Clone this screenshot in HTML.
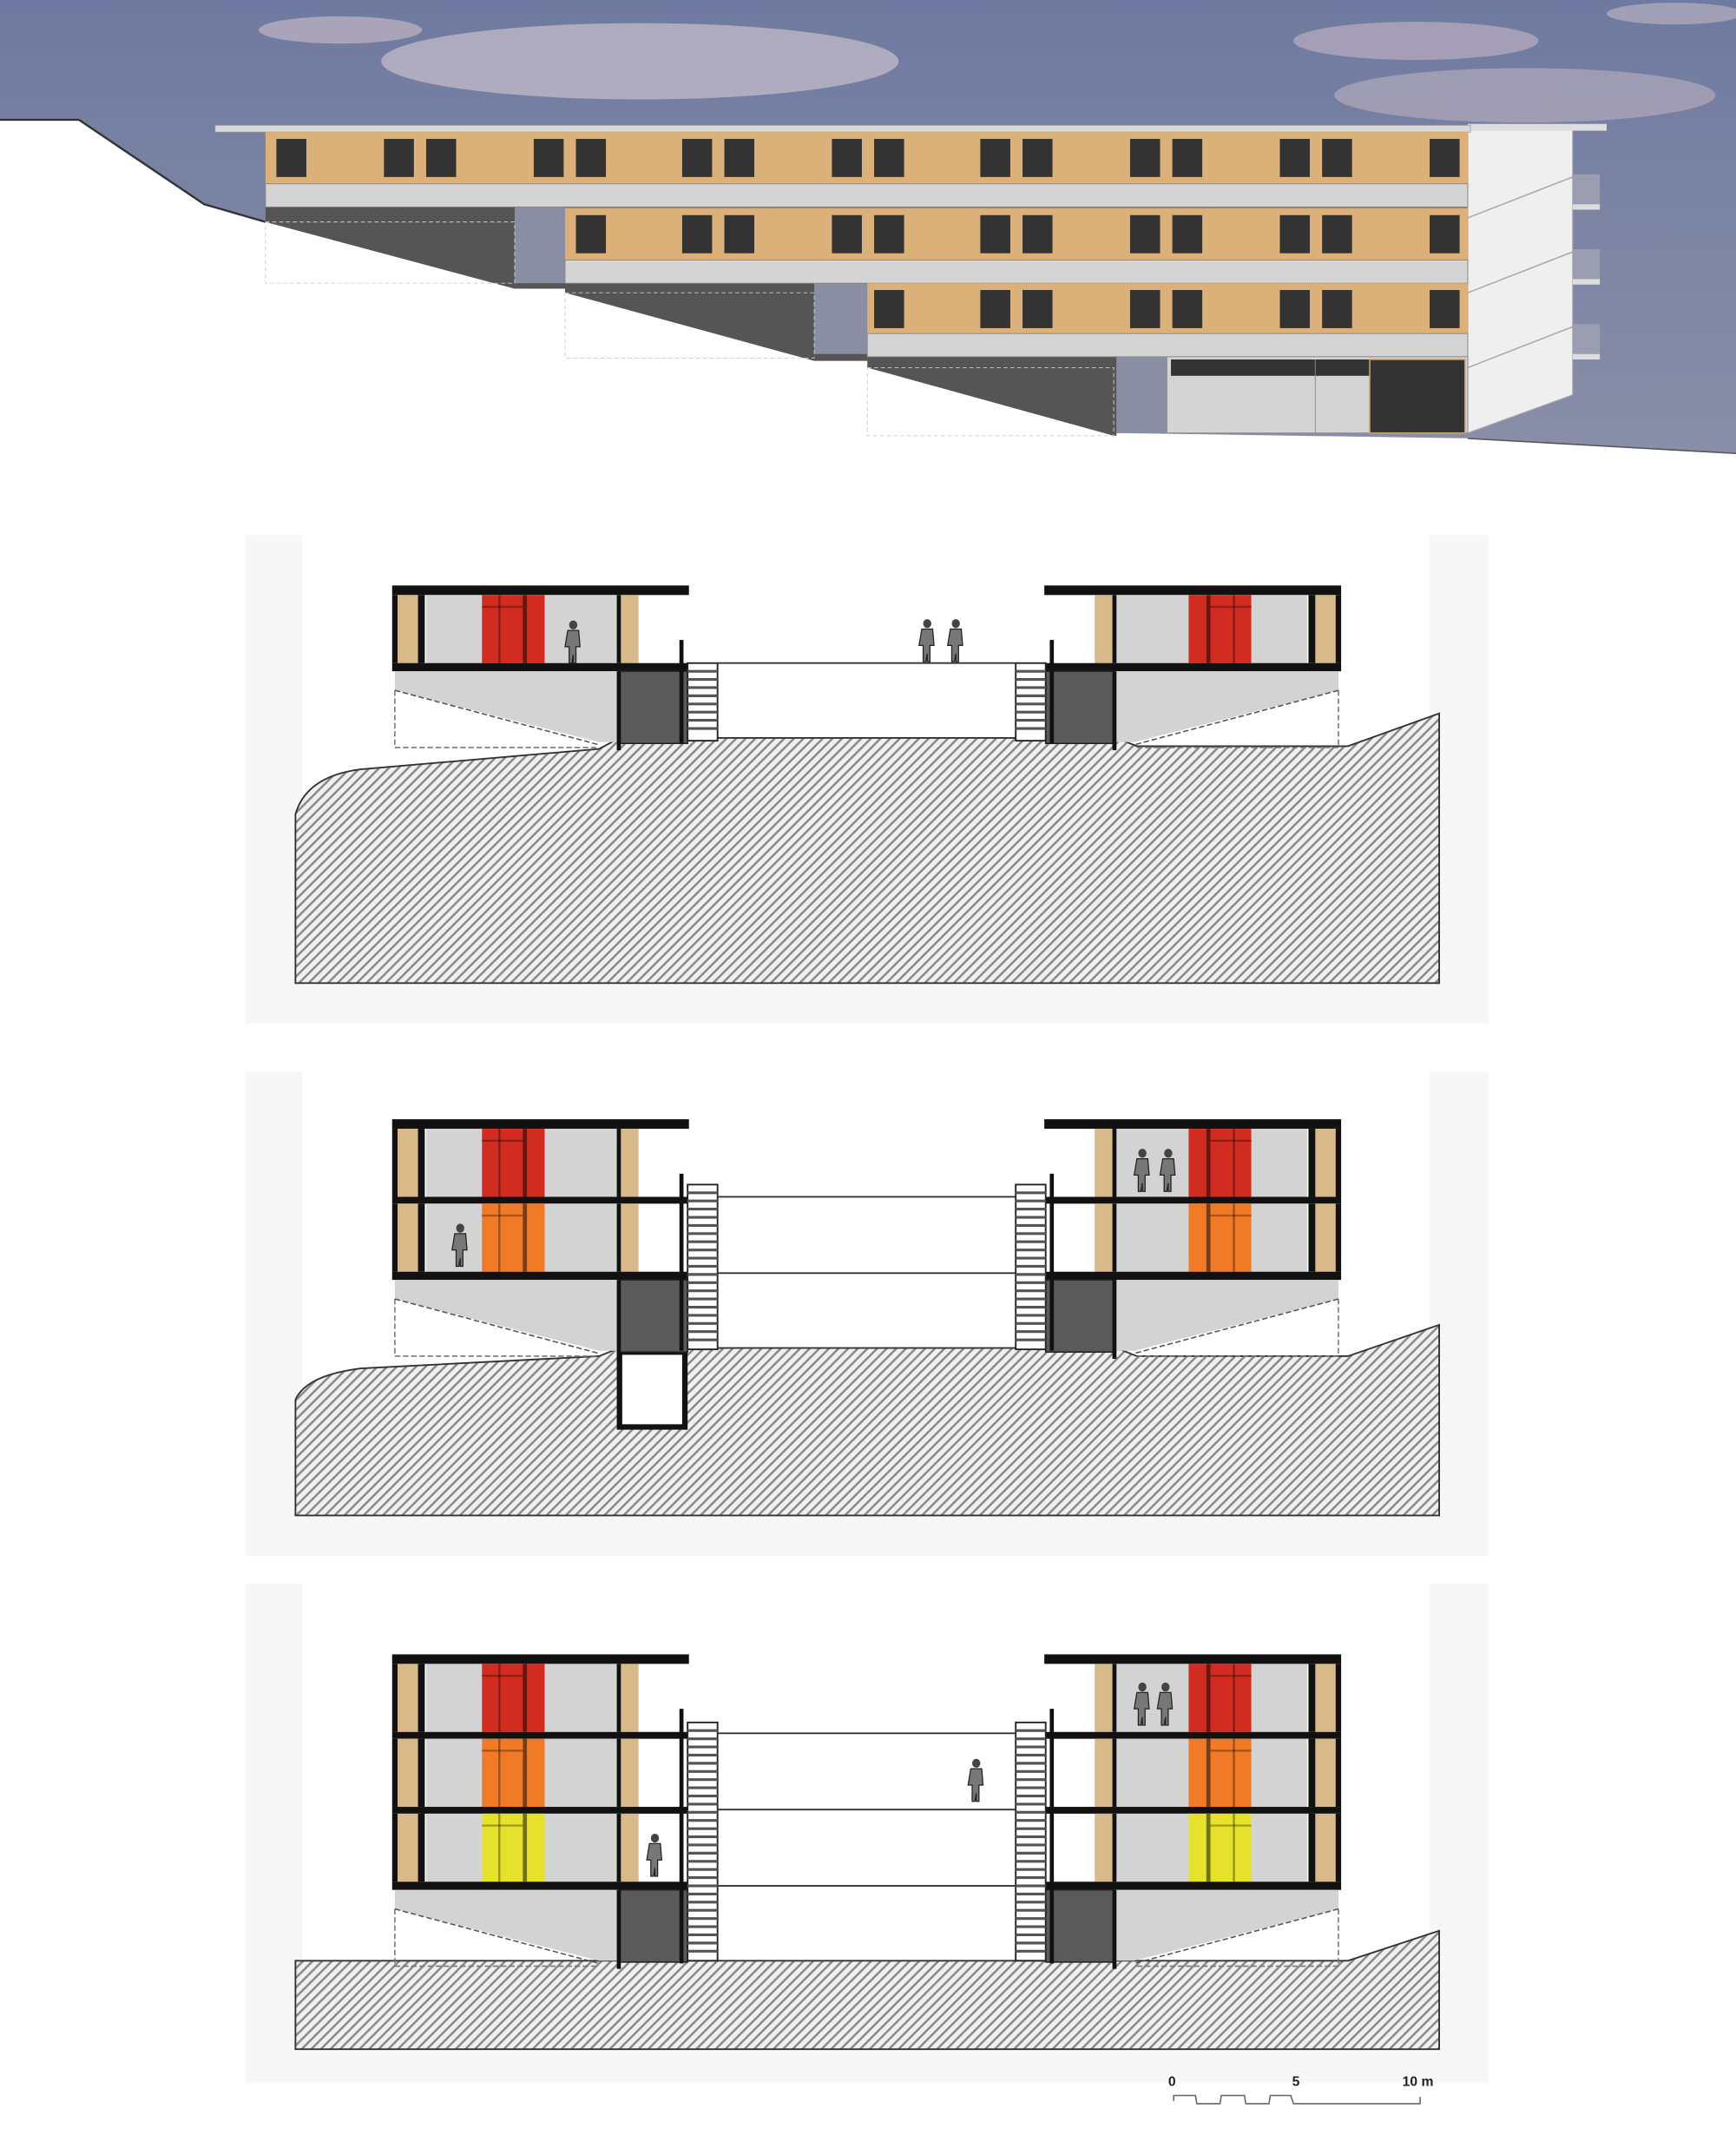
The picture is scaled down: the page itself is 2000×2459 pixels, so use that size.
<!DOCTYPE html>
<html><head><meta charset="utf-8"><style>html,body{margin:0;padding:0;background:#fff}svg{display:block}</style></head>
<body>
<svg width="2000" height="2459" viewBox="0 0 1275 1568" preserveAspectRatio="none" xmlns="http://www.w3.org/2000/svg">
<defs>
<linearGradient id="sky" x1="0" y1="0" x2="0" y2="1"><stop offset="0" stop-color="#6f7aa0"/><stop offset="1" stop-color="#8a8fa8"/></linearGradient>
<pattern id="hatch" width="5" height="5" patternUnits="userSpaceOnUse" patternTransform="rotate(-45)"><rect width="5" height="5" fill="#f0f0f0"/><rect width="5" height="1.6" fill="#8a8a8a"/></pattern>
<g id="win"><rect x="0" y="0" width="22" height="28" fill="#333"/></g>
<g id="band">
 <rect x="0" y="0" width="883" height="38" fill="#dcb179"/>
 <use href="#win" x="8" y="5"/><use href="#win" x="87" y="5"/><use href="#win" x="118" y="5"/>
 <use href="#win" x="197" y="5"/><use href="#win" x="228" y="5"/><use href="#win" x="306" y="5"/><use href="#win" x="337" y="5"/>
 <use href="#win" x="416" y="5"/><use href="#win" x="447" y="5"/><use href="#win" x="525" y="5"/><use href="#win" x="556" y="5"/>
 <use href="#win" x="635" y="5"/><use href="#win" x="666" y="5"/><use href="#win" x="745" y="5"/><use href="#win" x="776" y="5"/>
 <use href="#win" x="855" y="5"/>
</g>
<g id="fl">
 <rect x="289" y="0" width="20" height="50" fill="#d7b98a"/>
 <rect x="288" y="0" width="4" height="50" fill="#111"/>
 <rect x="307" y="0" width="5" height="50" fill="#111"/>
 <rect x="313" y="0" width="142" height="50" fill="#d3d3d3"/>
 <rect x="455" y="0" width="14" height="50" fill="#d7b98a"/>
 <rect x="453" y="0" width="3" height="50" fill="#111"/>
</g>
<g id="door"><rect x="354" y="0" width="46" height="50"/><rect x="366" y="0" width="1.5" height="50" fill="#000" opacity=".35"/><rect x="384" y="0" width="3" height="50" fill="#000" opacity=".5"/><rect x="354" y="8" width="30" height="1.5" fill="#000" opacity=".3"/></g>
<g id="person"><ellipse cx="0" cy="3" rx="3" ry="3.3" fill="#444"/><path d="M-4 7 h8 l1 12 h-3 l0 12 h-2 l0-6 l-1 6 h-2 l0-12 h-3z" fill="#777" stroke="#222" stroke-width=".8"/></g>
<g id="under">
 <polygon points="290,0 455,0 455,52 440,52 290,14" fill="#d3d3d3"/>
 <polyline points="290,14 290,56 440,56" fill="none" stroke="#777" stroke-width="1" stroke-dasharray="4,2"/>
 <line x1="290" y1="14" x2="440" y2="54" stroke="#555" stroke-width="1" stroke-dasharray="4,2"/>
 <rect x="455" y="0" width="50" height="53" fill="#5a5a5a" stroke="#222" stroke-width="1"/>
 <rect x="453" y="0" width="3" height="58" fill="#111"/>
</g>
</defs>

<!-- TOP ELEVATION -->
<rect x="0" y="0" width="1275" height="336" fill="url(#sky)"/>
<ellipse cx="470" cy="45" rx="190" ry="28" fill="#d8cbd4" opacity=".6"/>
<ellipse cx="250" cy="22" rx="60" ry="10" fill="#cfc0cc" opacity=".6"/>
<ellipse cx="1040" cy="30" rx="90" ry="14" fill="#cdbcc8" opacity=".55"/>
<ellipse cx="1120" cy="70" rx="140" ry="20" fill="#d2c0c8" opacity=".45"/>
<ellipse cx="1230" cy="10" rx="50" ry="8" fill="#d0c4cc" opacity=".5"/>
<!-- end wall -->
<polygon points="1078,95 1155,95 1155,290 1078,318" fill="#efefef" stroke="#aaa" stroke-width=".7"/>
<rect x="1078" y="91" width="102" height="5" fill="#ddd"/>
<rect x="1155" y="128" width="20" height="22" fill="#9a9eb0"/><rect x="1155" y="150" width="20" height="4" fill="#ddd"/>
<rect x="1155" y="183" width="20" height="22" fill="#9a9eb0"/><rect x="1155" y="205" width="20" height="4" fill="#ddd"/>
<rect x="1155" y="238" width="20" height="22" fill="#9a9eb0"/><rect x="1155" y="260" width="20" height="4" fill="#ddd"/>
<line x1="1078" y1="160" x2="1155" y2="130" stroke="#aaa"/><line x1="1078" y1="215" x2="1155" y2="185" stroke="#aaa"/><line x1="1078" y1="270" x2="1155" y2="240" stroke="#aaa"/>
<!-- ground white -->
<polygon points="0,88 58,88 150,150 195,163 378,212 415,212 415,215 598,262 637,262 637,265 818,318 1085,322 1275,333 1275,1568 0,1568" fill="#fff"/>
<line x1="0" y1="88" x2="58" y2="88" stroke="#333" stroke-width="1.5"/>
<polyline points="58,88 150,150 195,163" fill="none" stroke="#333" stroke-width="1.5"/>
<line x1="1078" y1="322" x2="1275" y2="333" stroke="#555" stroke-width="1"/>
<!-- dark undersides -->
<polygon points="195,152 415,152 415,212 378,212 195,163" fill="#555"/>
<rect x="378" y="152" width="37" height="56" fill="#8a8ea2"/>
<polygon points="415,208 637,208 637,265 598,265 415,215" fill="#555"/>
<rect x="598" y="208" width="39" height="52" fill="#8a8ea2"/>
<polygon points="637,262 820,262 820,320 818,320 637,270" fill="#555"/>
<rect x="820" y="262" width="37" height="56" fill="#8a8ea2"/>
<rect x="195" y="163" width="183" height="45" fill="none" stroke="#ccc" stroke-width=".6" stroke-dasharray="3,2"/>
<rect x="415" y="215" width="183" height="48" fill="none" stroke="#ccc" stroke-width=".6" stroke-dasharray="3,2"/>
<rect x="637" y="270" width="181" height="50" fill="none" stroke="#ccc" stroke-width=".6" stroke-dasharray="3,2"/>
<!-- floors -->
<rect x="158" y="92" width="922" height="5" fill="#d8d8d8" stroke="#999" stroke-width=".5"/>
<use href="#band" x="195" y="97"/>
<rect x="195" y="135" width="883" height="17" fill="#d4d4d4" stroke="#888" stroke-width=".6"/>
<g clip-path="url(#c2)"><use href="#band" x="195" y="153"/></g>
<clipPath id="c2"><rect x="415" y="150" width="665" height="45"/></clipPath>
<rect x="415" y="191" width="663" height="17" fill="#d4d4d4" stroke="#888" stroke-width=".6"/>
<clipPath id="c3"><rect x="637" y="205" width="443" height="45"/></clipPath>
<g clip-path="url(#c3)"><use href="#band" x="195" y="208"/></g>
<rect x="637" y="245" width="441" height="17" fill="#d4d4d4" stroke="#888" stroke-width=".6"/>
<rect x="857" y="262" width="221" height="56" fill="#d4d4d4" stroke="#888" stroke-width=".6"/>
<rect x="860" y="264" width="146" height="12" fill="#333"/>
<rect x="1006" y="264" width="70" height="54" fill="#333" stroke="#c9a068" stroke-width="1"/>
<line x1="966" y1="264" x2="966" y2="318" stroke="#888" stroke-width=".6"/>

<!-- SECTION FRAMES -->
<rect x="180" y="393" width="913" height="359" fill="#f7f7f7"/>
<rect x="222" y="393" width="828" height="330" fill="#fff"/>
<rect x="180" y="787" width="913" height="356" fill="#f7f7f7"/>
<rect x="222" y="787" width="828" height="326" fill="#fff"/>
<rect x="180" y="1163" width="913" height="367" fill="#f7f7f7"/>
<rect x="222" y="1163" width="828" height="342" fill="#fff"/>

<!-- SECTION 1 -->
<path d="M217,722 L217,598 Q225,570 265,565 L440,550 L455,542 L820,542 L835,548 L990,548 L1057,524 L1057,722 Z" fill="url(#hatch)" stroke="#333" stroke-width="1.2"/>
<g id="s1">
 <rect x="288" y="430" width="218" height="7" fill="#111"/>
 <use href="#fl" y="437"/><use href="#door" y="437" fill="#d22b20"/>
 <rect x="288" y="487" width="218" height="6" fill="#111"/>
 <use href="#under" y="493"/>
 <rect x="499" y="470" width="3" height="76" fill="#111"/>
 <rect x="505" y="487" width="22" height="57" fill="#fff" stroke="#222" stroke-width="1.2"/>
 <path d="M505 493h22M505 499h22M505 505h22M505 511h22M505 517h22M505 523h22M505 529h22M505 535h22" stroke="#555" stroke-width="2"/>
</g>
<use href="#s1" transform="translate(1273,0) scale(-1,1)"/>
<line x1="527" y1="487" x2="746" y2="487" stroke="#333" stroke-width="1.2"/>
<use href="#person" x="421" y="456"/>
<use href="#person" x="681" y="455"/><use href="#person" x="702" y="455"/>

<!-- SECTION 2 -->
<path d="M217,1113 L217,1028 Q225,1010 265,1005 L440,996 L455,990 L820,990 L835,996 L990,996 L1057,973 L1057,1113 Z" fill="url(#hatch)" stroke="#333" stroke-width="1.2"/>
<rect x="455" y="993" width="48" height="55" fill="#fff" stroke="#111" stroke-width="4"/>
<g id="s2">
 <rect x="288" y="822" width="218" height="7" fill="#111"/>
 <use href="#fl" y="829"/><use href="#door" y="829" fill="#d22b20"/>
 <rect x="288" y="879" width="218" height="5" fill="#111"/>
 <use href="#fl" y="884"/><use href="#door" y="884" fill="#f07a26"/>
 <rect x="288" y="934" width="218" height="6" fill="#111"/>
 <use href="#under" y="940"/>
 <rect x="499" y="862" width="3" height="130" fill="#111"/>
 <rect x="505" y="870" width="22" height="121" fill="#fff" stroke="#222" stroke-width="1.2"/>
 <path d="M505 876h22M505 882h22M505 888h22M505 894h22M505 900h22M505 906h22M505 912h22M505 918h22M505 924h22M505 930h22M505 936h22M505 942h22M505 948h22M505 954h22M505 960h22M505 966h22M505 972h22M505 978h22M505 984h22" stroke="#555" stroke-width="2"/>
</g>
<use href="#s2" transform="translate(1273,0) scale(-1,1)"/>
<line x1="527" y1="879" x2="746" y2="879" stroke="#333" stroke-width="1.2"/>
<line x1="527" y1="935" x2="746" y2="935" stroke="#333" stroke-width="1.2"/>
<use href="#person" x="338" y="899"/>
<use href="#person" x="839" y="844"/><use href="#person" x="858" y="844"/>

<!-- SECTION 3 -->
<path d="M217,1505 L217,1440 L990,1440 L1057,1418 L1057,1505 Z" fill="url(#hatch)" stroke="#333" stroke-width="1.2"/>
<g id="s3">
 <rect x="288" y="1215" width="218" height="7" fill="#111"/>
 <use href="#fl" y="1222"/><use href="#door" y="1222" fill="#d22b20"/>
 <rect x="288" y="1272" width="218" height="5" fill="#111"/>
 <use href="#fl" y="1277"/><use href="#door" y="1277" fill="#f07a26"/>
 <rect x="288" y="1327" width="218" height="5" fill="#111"/>
 <use href="#fl" y="1332"/><use href="#door" y="1332" fill="#e6e22c"/>
 <rect x="288" y="1382" width="218" height="6" fill="#111"/>
 <use href="#under" y="1388"/>
 <rect x="499" y="1255" width="3" height="187" fill="#111"/>
 <rect x="505" y="1265" width="22" height="175" fill="#fff" stroke="#222" stroke-width="1.2"/>
 <path d="M505 1271h22M505 1277h22M505 1283h22M505 1289h22M505 1295h22M505 1301h22M505 1307h22M505 1313h22M505 1319h22M505 1325h22M505 1331h22M505 1337h22M505 1343h22M505 1349h22M505 1355h22M505 1361h22M505 1367h22M505 1373h22M505 1379h22M505 1385h22M505 1391h22M505 1397h22M505 1403h22M505 1409h22M505 1415h22M505 1421h22M505 1427h22M505 1433h22" stroke="#555" stroke-width="2"/>
</g>
<use href="#s3" transform="translate(1273,0) scale(-1,1)"/>
<line x1="527" y1="1273" x2="746" y2="1273" stroke="#333" stroke-width="1.2"/>
<line x1="527" y1="1329" x2="746" y2="1329" stroke="#333" stroke-width="1.2"/>
<line x1="527" y1="1385" x2="746" y2="1385" stroke="#333" stroke-width="1.2"/>
<use href="#person" x="481" y="1347"/>
<use href="#person" x="717" y="1292"/>
<use href="#person" x="839" y="1236"/><use href="#person" x="856" y="1236"/>

<!-- scale bar -->
<text x="858" y="1532" font-family="Liberation Sans, sans-serif" font-size="10" font-weight="bold" fill="#222">0</text>
<text x="949" y="1532" font-family="Liberation Sans, sans-serif" font-size="10" font-weight="bold" fill="#222">5</text>
<text x="1030" y="1532" font-family="Liberation Sans, sans-serif" font-size="10" font-weight="bold" fill="#222">10 m</text>
<polyline points="862,1543 862,1539 878,1539 879,1545 896,1545 897,1539 914,1539 915,1545 932,1545 933,1539 948,1539 950,1545 1043,1545 1043,1540" fill="none" stroke="#666" stroke-width="1"/>
</svg>
</body></html>
